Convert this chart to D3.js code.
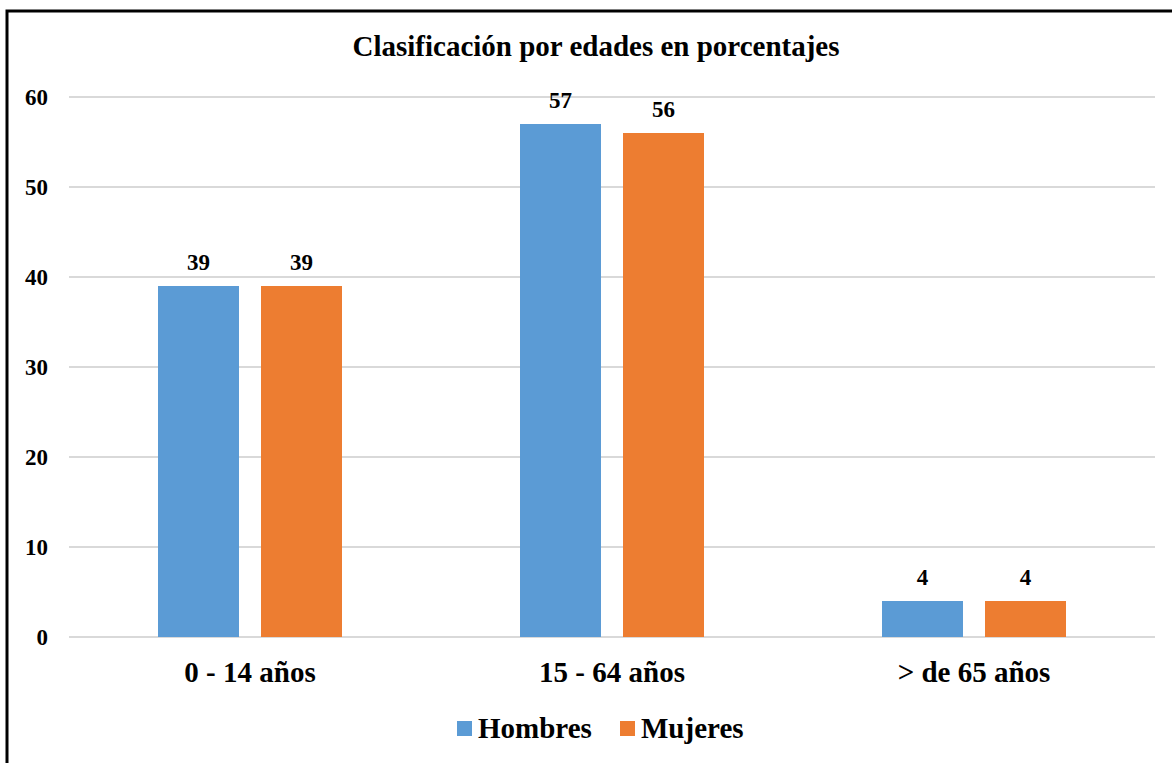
<!DOCTYPE html>
<html>
<head>
<meta charset="utf-8">
<script src="https://cdn.jsdelivr.net/npm/d3@7"></script>
<style>
  html, body { margin: 0; padding: 0; background: #ffffff; overflow: hidden; }
  svg { display: block; }
  text { font-family: "Liberation Serif", "Times New Roman", serif; font-weight: bold; fill: #000000; }
</style>
</head>
<body>
<div id="chart"></div>
<script>
// Chart data
var categories = ['0 - 14 años', '15 - 64 años', '> de 65 años'];
var seriesNames = ['Hombres', 'Mujeres'];
var hombres = [39, 57, 4];
var mujeres = [39, 56, 4];
var yTicks = [0, 10, 20, 30, 40, 50, 60];
var chartTitle = 'Clasificación por edades en porcentajes';

var width = 1172, height = 763;
var margin = {top: 97, right: 17, bottom: 126, left: 69};
var innerWidth = width - margin.left - margin.right;
var innerHeight = height - margin.top - margin.bottom;
var colors = d3.scaleOrdinal().domain(seriesNames).range(['#5B9BD5', '#ED7D31']);

var svg = d3.select('#chart').append('svg')
  .attr('width', width)
  .attr('height', height);

// Outer frame (left and top edges only)
svg.append('path')
  .attr('d', 'M7,763 V11 H1172')
  .attr('fill', 'none')
  .attr('stroke', '#000')
  .attr('stroke-width', 3);

var g = svg.append('g')
  .attr('transform', 'translate(' + margin.left + ',' + margin.top + ')');

var x0 = d3.scaleBand().domain(categories).range([0, innerWidth]).paddingInner(0).paddingOuter(0);
var x1 = d3.scaleBand().domain(seriesNames).range([-92, 92]).paddingInner(22 / 103).paddingOuter(0);
var y = d3.scaleLinear().domain([0, 60]).range([innerHeight, 0]);

// Gridlines
g.append('g')
  .selectAll('line')
  .data(yTicks)
  .enter().append('line')
  .attr('x1', 0)
  .attr('x2', innerWidth)
  .attr('y1', function(d) { return y(d); })
  .attr('y2', function(d) { return y(d); })
  .attr('stroke', '#D9D9D9')
  .attr('stroke-width', 2);

// Y axis labels
var yAxis = g.append('g')
  .call(d3.axisLeft(y).tickValues(yTicks).tickSize(0).tickPadding(21))
  .attr('font-size', 23)
  .attr('font-family', '"Liberation Serif", serif')
  .attr('font-weight', 'bold');
yAxis.select('.domain').remove();
yAxis.selectAll('text')
  .attr('fill', '#000');

// Bars
var rows = categories.map(function(c, i) {
  return {cat: c, values: [{name: 'Hombres', v: hombres[i]}, {name: 'Mujeres', v: mujeres[i]}]};
});

var group = g.selectAll('.grp')
  .data(rows)
  .enter().append('g')
  .attr('class', 'grp')
  .attr('transform', function(d) { return 'translate(' + (x0(d.cat) + x0.bandwidth() / 2) + ',0)'; });

group.selectAll('rect')
  .data(function(d) { return d.values; })
  .enter().append('rect')
  .attr('x', function(d) { return x1(d.name); })
  .attr('width', x1.bandwidth())
  .attr('y', function(d) { return y(d.v); })
  .attr('height', function(d) { return innerHeight - y(d.v); })
  .attr('fill', function(d) { return colors(d.name); });

group.selectAll('.lbl')
  .data(function(d) { return d.values; })
  .enter().append('text')
  .attr('class', 'lbl')
  .attr('x', function(d) { return x1(d.name) + x1.bandwidth() / 2; })
  .attr('y', function(d) { return y(d.v) - 16; })
  .attr('text-anchor', 'middle')
  .attr('font-size', 23)
  .text(function(d) { return d.v; });

// X axis category labels
var xAxis = g.append('g')
  .attr('transform', 'translate(0,' + innerHeight + ')')
  .call(d3.axisBottom(x0).tickSize(0).tickPadding(0))
  .attr('font-size', 29)
  .attr('font-family', '"Liberation Serif", serif')
  .attr('font-weight', 'bold');
xAxis.select('.domain').remove();
xAxis.selectAll('text')
  .attr('dy', null)
  .attr('y', 45)
  .attr('fill', '#000');

// Title
svg.append('text')
  .attr('x', 596)
  .attr('y', 56)
  .attr('text-anchor', 'middle')
  .attr('font-size', 29)
  .text(chartTitle);

// Legend
var legendX = [457, 620];
var legend = svg.selectAll('.legend')
  .data(seriesNames)
  .enter().append('g')
  .attr('class', 'legend')
  .attr('transform', function(d, i) { return 'translate(' + legendX[i] + ',721)'; });

legend.append('rect')
  .attr('width', 15)
  .attr('height', 15)
  .attr('fill', function(d) { return colors(d); });

legend.append('text')
  .attr('x', 21)
  .attr('y', 17)
  .attr('font-size', 29)
  .text(function(d) { return d; });
</script>
</body>
</html>
